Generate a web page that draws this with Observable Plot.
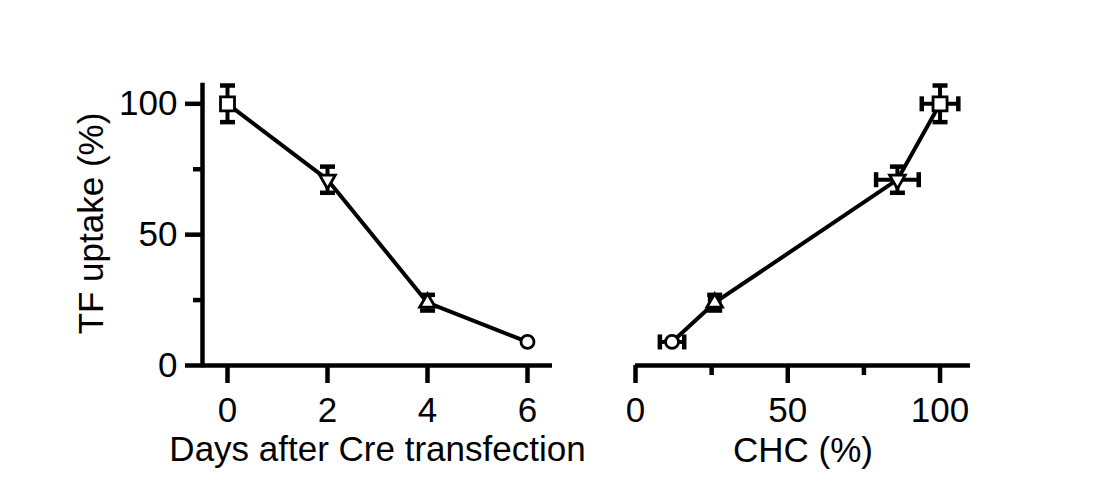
<!DOCTYPE html>
<html>
<head>
<meta charset="utf-8">
<script src="https://cdn.jsdelivr.net/npm/d3@7"></script>
<script src="https://cdn.jsdelivr.net/npm/@observablehq/plot@0.6"></script>
<style>
  html, body { margin: 0; padding: 0; background: white; }
  #chart { position: relative; width: 1101px; height: 483px; overflow: hidden; background: white; }
  #chart svg { position: absolute; top: 0; }
</style>
</head>
<body>
<div id="chart"></div>
<script>
// ---- data ----
const days = [0, 2, 4, 6];
const uptake = [100, 71, 24, 9];
const uptakeErr = [7, 5, 3, 0];
const chc = [100, 86, 26, 12];
const chcErr = [6, 7, 1.5, 4];

const yLabel = "TF uptake (%)";
const xLabelLeft = "Days after Cre transfection";
const xLabelRight = "CHC (%)";

const yMajorTicks = [0, 50, 100];
const yMinorTicks = [25, 75];
const xTicksLeft = [0, 2, 4, 6];
const xMajorTicksRight = [0, 50, 100];
const xMinorTicksRight = [25, 75];

// marker styling per point (square, down-triangle, up-triangle, circle)
const shapes = ["square", "triangle", "triangle", "circle"];
const shapeRotate = [0, 180, 0, 0];
const shapeR = [7.9, 5.8, 5.8, 6.5];

const rows = days.map((d, i) => ({day: d, uptake: uptake[i], ue: uptakeErr[i], chc: chc[i], ce: chcErr[i], i}));

const hcap = {draw(ctx, size) { const w = Math.sqrt(size / Math.PI); ctx.moveTo(-w, 0); ctx.lineTo(w, 0); }};
const vcap = {draw(ctx, size) { const w = Math.sqrt(size / Math.PI); ctx.moveTo(0, -w); ctx.lineTo(0, w); }};

const font = "'Liberation Sans', Arial, Helvetica, sans-serif";
const style = {fontFamily: font, fontSize: "35px", color: "black", background: "transparent", overflow: "visible"};
const fmt = d3.format("d");

function markers(xField) {
  return rows.map((r, i) => Plot.dot([r], {
    x: xField, y: "uptake", symbol: shapes[i], rotate: shapeRotate[i], r: shapeR[i],
    fill: "white", stroke: "black", strokeWidth: 2.8
  }));
}

function yErrMarks(xField) {
  const e = rows.filter(r => r.ue > 0);
  return [
    Plot.ruleX(e, {x: xField, y1: d => d.uptake - d.ue, y2: d => d.uptake + d.ue, stroke: "black", strokeWidth: 4}),
    Plot.dot(e, {x: xField, y: d => d.uptake + d.ue, symbol: hcap, r: 7.5, stroke: "black", strokeWidth: 4.5}),
    Plot.dot(e, {x: xField, y: d => d.uptake - d.ue, symbol: hcap, r: 7.5, stroke: "black", strokeWidth: 4.5})
  ];
}

// ---- left panel ----
const left = Plot.plot({
  width: 600, height: 483,
  marginLeft: 202, marginRight: 48, marginTop: 85, marginBottom: 118,
  x: {domain: [-0.5, 6.5]},
  y: {domain: [0, 107]},
  style,
  marks: [
    Plot.ruleX([-0.5], {stroke: "black", strokeWidth: 4.5, strokeLinecap: "square"}),
    Plot.ruleY([0], {stroke: "black", strokeWidth: 4.5}),
    Plot.axisY({ticks: yMajorTicks, tickSize: 17, tickPadding: 8, strokeWidth: 4.5, tickFormat: fmt, label: null}),
    Plot.axisY({ticks: yMinorTicks, tickSize: 9, tickFormat: () => "", strokeWidth: 4.5, label: null}),
    Plot.axisX({ticks: xTicksLeft, tickSize: 18, tickPadding: 14, strokeWidth: 4.5, tickFormat: fmt, label: null}),
    Plot.text([xLabelLeft], {frameAnchor: "bottom", lineAnchor: "bottom", dy: 95, text: d => d, fill: "black"}),
    Plot.text([yLabel], {frameAnchor: "left", textAnchor: "middle", lineAnchor: "bottom", rotate: -90, dx: -100, dy: -2, text: d => d, fill: "black"}),
    ...yErrMarks("day"),
    Plot.line(rows, {x: "day", y: "uptake", stroke: "black", strokeWidth: 4}),
    ...markers("day")
  ]
});
left.style.left = "0px";

// ---- right panel ----
const right = Plot.plot({
  width: 501, height: 483,
  marginLeft: 35, marginRight: 131, marginTop: 85, marginBottom: 118,
  x: {domain: [0, 110]},
  y: {domain: [0, 107]},
  style,
  marks: [
    Plot.ruleY([0], {stroke: "black", strokeWidth: 4.5}),
    Plot.axisX({ticks: xMajorTicksRight, tickSize: 18, tickPadding: 14, strokeWidth: 4.5, tickFormat: fmt, label: null}),
    Plot.axisX({ticks: xMinorTicksRight, tickSize: 10, tickFormat: () => "", strokeWidth: 4.5, label: null}),
    Plot.axisY({ticks: [], label: null}),
    Plot.text([xLabelRight], {frameAnchor: "bottom", lineAnchor: "bottom", dy: 96, text: d => d, fill: "black"}),
    ...yErrMarks("chc"),
    Plot.ruleY(rows, {y: "uptake", x1: d => d.chc - d.ce, x2: d => d.chc + d.ce, stroke: "black", strokeWidth: 4}),
    Plot.dot(rows, {x: d => d.chc - d.ce, y: "uptake", symbol: vcap, r: 7.5, stroke: "black", strokeWidth: 4.5}),
    Plot.dot(rows, {x: d => d.chc + d.ce, y: "uptake", symbol: vcap, r: 7.5, stroke: "black", strokeWidth: 4.5}),
    Plot.line(rows, {x: "chc", y: "uptake", stroke: "black", strokeWidth: 4}),
    ...markers("chc")
  ]
});
right.style.left = "600px";

const chart = document.getElementById("chart");
chart.appendChild(left);
chart.appendChild(right);
</script>
</body>
</html>
